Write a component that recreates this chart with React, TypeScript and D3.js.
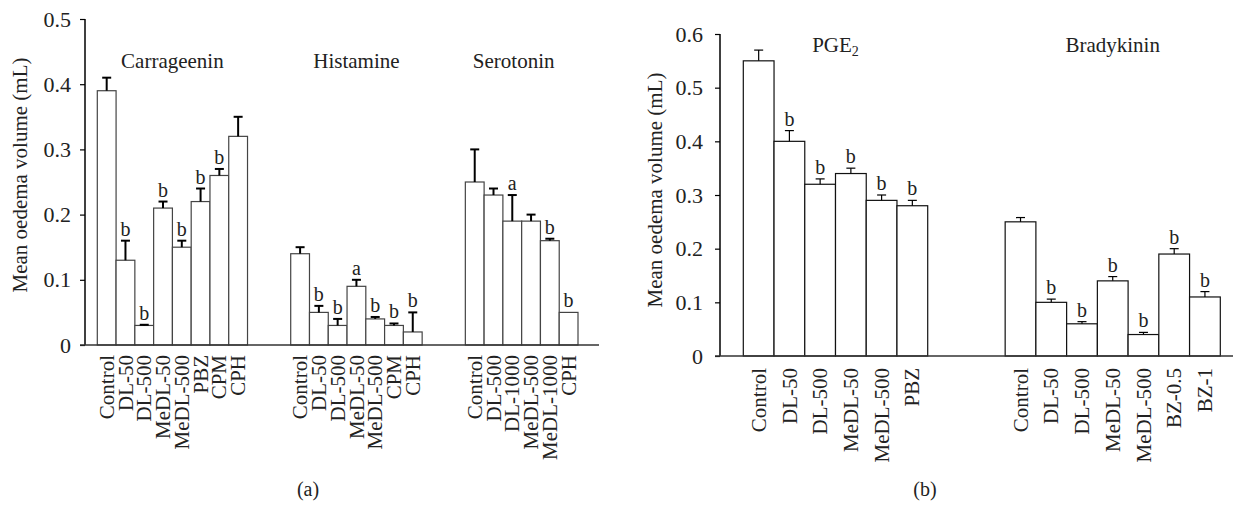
import React, { useEffect, useRef } from 'react';
import * as d3 from 'd3';

// Panel (a)
const carrLabels = ["Control", "DL-50", "DL-500", "MeDL-50", "MeDL-500", "PBZ", "CPM", "CPH"];
const carrMeans = [0.39, 0.13, 0.03, 0.21, 0.15, 0.22, 0.26, 0.32];
const carrErrs = [0.02, 0.03, 0.001, 0.01, 0.01, 0.02, 0.01, 0.03];
const carrSig = ["", "b", "b", "b", "b", "b", "b", ""];

const histLabels = ["Control", "DL-50", "DL-500", "MeDL-50", "MeDL-500", "CPM", "CPH"];
const histMeans = [0.14, 0.05, 0.03, 0.09, 0.04, 0.03, 0.02];
const histErrs = [0.01, 0.01, 0.01, 0.01, 0.003, 0.003, 0.03];
const histSig = ["", "b", "b", "a", "b", "b", "b"];

const seroLabels = ["Control", "DL-500", "DL-1000", "MeDL-500", "MeDL-1000", "CPH"];
const seroMeans = [0.25, 0.23, 0.19, 0.19, 0.16, 0.05];
const seroErrs = [0.05, 0.01, 0.04, 0.01, 0.003, 0];
const seroSig = ["", "", "a", "", "b", "b"];

const ticksA = [0, 0.1, 0.2, 0.3, 0.4, 0.5];

// Panel (b)
const pgeLabels = ["Control", "DL-50", "DL-500", "MeDL-50", "MeDL-500", "PBZ"];
const pgeMeans = [0.55, 0.40, 0.32, 0.34, 0.29, 0.28];
const pgeErrs = [0.02, 0.02, 0.01, 0.01, 0.01, 0.01];
const pgeSig = ["", "b", "b", "b", "b", "b"];

const bradLabels = ["Control", "DL-50", "DL-500", "MeDL-50", "MeDL-500", "BZ-0.5", "BZ-1"];
const bradMeans = [0.25, 0.10, 0.06, 0.14, 0.04, 0.19, 0.11];
const bradErrs = [0.008, 0.006, 0.004, 0.008, 0.004, 0.01, 0.01];
const bradSig = ["", "b", "b", "b", "b", "b", "b"];

const ticksB = [0, 0.1, 0.2, 0.3, 0.4, 0.5, 0.6];

const FONT = '"Liberation Serif", "Times New Roman", serif';

const makeGroup = (title, labels, means, errs, sig) =>
  labels.map((label, i) => ({ title, label, mean: means[i], err: errs[i], sig: sig[i] }));

function drawPanel(svg, opts) {
  const { groups, ticks, gap, x0, x1, yTop, yBottom, axisX, axisEnd, tickPad,
    labelOffset, errWidth, barStroke, titleY, titleShift, ylabelX, ylabelY } = opts;

  // slot positions for bars, with a gap between groups
  let offset = 0;
  const slots = [];
  groups.forEach(g => {
    slots.push(offset);
    offset += g.length + gap;
  });
  const lastSlot = offset - gap;

  const x = d3.scaleLinear().domain([0, lastSlot]).range([x0, x1]);
  const y = d3.scaleLinear().domain([0, ticks[ticks.length - 1]]).range([yBottom, yTop]);
  const bw = x(1) - x(0);

  const g = svg.append("g");

  groups.forEach((grp, gi) => {
    const gg = g.append("g");
    const start = slots[gi];

    // bars
    gg.selectAll("rect")
      .data(grp)
      .enter()
      .append("rect")
      .attr("x", (d, i) => x(start + i))
      .attr("y", d => y(d.mean))
      .attr("width", bw)
      .attr("height", d => y(0) - y(d.mean))
      .attr("fill", "#fff")
      .attr("stroke", barStroke)
      .attr("stroke-width", 1.2);

    // error bars
    const eb = gg.selectAll(".err")
      .data(grp.filter(d => d.err > 0))
      .enter()
      .append("g")
      .attr("transform", d => `translate(${x(start + grp.indexOf(d)) + bw / 2},0)`);
    eb.append("line")
      .attr("x1", 0).attr("x2", 0)
      .attr("y1", d => y(d.mean))
      .attr("y2", d => y(d.mean + d.err))
      .attr("stroke", "#000")
      .attr("stroke-width", errWidth);
    eb.append("line")
      .attr("x1", -4.5).attr("x2", 4.5)
      .attr("y1", d => y(d.mean + d.err))
      .attr("y2", d => y(d.mean + d.err))
      .attr("stroke", "#000")
      .attr("stroke-width", errWidth);

    // significance letters
    gg.selectAll(".sig")
      .data(grp.filter(d => d.sig))
      .enter()
      .append("text")
      .attr("x", d => x(start + grp.indexOf(d)) + bw / 2)
      .attr("y", d => y(d.mean + d.err) - 5)
      .attr("text-anchor", "middle")
      .style("font-family", FONT)
      .style("font-size", "20px")
      .style("fill", "#222")
      .text(d => d.sig);

    // category labels
    gg.selectAll(".cat")
      .data(grp)
      .enter()
      .append("text")
      .attr("transform", (d, i) => `translate(${x(start + i) + bw / 2},${yBottom + labelOffset}) rotate(-90)`)
      .attr("dy", "0.34em")
      .attr("text-anchor", "end")
      .style("font-family", FONT)
      .style("font-size", "21px")
      .style("fill", "#222")
      .text(d => d.label);

    // group title
    gg.append("text")
      .attr("x", x(start + grp.length / 2) + (titleShift[gi] || 0))
      .attr("y", titleY)
      .attr("text-anchor", "middle")
      .style("font-family", FONT)
      .style("font-size", "21px")
      .style("fill", "#222")
      .html(grp[0].title);
  });

  // y axis
  const axis = d3.axisLeft(y)
    .tickValues(ticks)
    .tickSize(5)
    .tickPadding(tickPad)
    .tickFormat(d => (d === 0 ? "0" : d3.format(".1f")(d)));
  const ag = svg.append("g")
    .attr("transform", `translate(${axisX},0)`)
    .call(axis);
  ag.select(".domain").attr("d", `M0,${yTop}V${yBottom}`).attr("stroke", "#000").attr("stroke-width", 1.5);
  ag.selectAll(".tick line").attr("stroke", "#000").attr("stroke-width", 1.2);
  ag.selectAll(".tick text")
    .style("font-family", FONT)
    .style("font-size", "22px")
    .style("fill", "#222");

  // baseline
  svg.append("line")
    .attr("x1", axisX - 5).attr("x2", axisEnd)
    .attr("y1", yBottom).attr("y2", yBottom)
    .attr("stroke", "#333")
    .attr("stroke-width", 1.5);

  // y label
  svg.append("text")
    .attr("transform", `translate(${ylabelX},${ylabelY}) rotate(-90)`)
    .attr("text-anchor", "middle")
    .style("font-family", FONT)
    .style("font-size", "21px")
    .style("fill", "#222")
    .text("Mean oedema volume (mL)");
}

const Chart = () => {
  const ref = useRef(null);

  useEffect(() => {
    const svg = d3.select(ref.current);
    svg.selectAll("*").remove();

    drawPanel(svg, {
      groups: [
        makeGroup("Carrageenin", carrLabels, carrMeans, carrErrs, carrSig),
        makeGroup("Histamine", histLabels, histMeans, histErrs, histSig),
        makeGroup("Serotonin", seroLabels, seroMeans, seroErrs, seroSig),
      ],
      ticks: ticksA,
      gap: 2.3,
      x0: 97.3, x1: 578,
      yTop: 19, yBottom: 345,
      axisX: 85, axisEnd: 599,
      tickPad: 9,
      labelOffset: 10,
      errWidth: 2,
      barStroke: "#444",
      titleY: 68,
      titleShift: [0, 0, -8],
      ylabelX: 27, ylabelY: 175,
    });

    drawPanel(svg, {
      groups: [
        makeGroup("PGE<tspan font-size='14px' dy='4'>2</tspan>", pgeLabels, pgeMeans, pgeErrs, pgeSig),
        makeGroup("Bradykinin", bradLabels, bradMeans, bradErrs, bradSig),
      ],
      ticks: ticksB,
      gap: 2.52,
      x0: 743.3, x1: 1220.3,
      yTop: 34, yBottom: 356,
      axisX: 720, axisEnd: 1233,
      tickPad: 12,
      labelOffset: 12,
      errWidth: 1.2,
      barStroke: "#111",
      titleY: 52,
      titleShift: [0, 0],
      ylabelX: 662, ylabelY: 190,
    });

    svg.append("text")
      .attr("x", 308).attr("y", 496)
      .attr("text-anchor", "middle")
      .style("font-family", FONT)
      .style("font-size", "20px")
      .style("fill", "#222")
      .text("(a)");
    svg.append("text")
      .attr("x", 925).attr("y", 496)
      .attr("text-anchor", "middle")
      .style("font-family", FONT)
      .style("font-size", "20px")
      .style("fill", "#222")
      .text("(b)");
  }, []);

  return (
    <svg ref={ref} width={1233} height={507}
      style={{ position: "absolute", left: 0, top: 0, background: "#fff" }} />
  );
};

export default function App() {
  return <Chart />;
}
